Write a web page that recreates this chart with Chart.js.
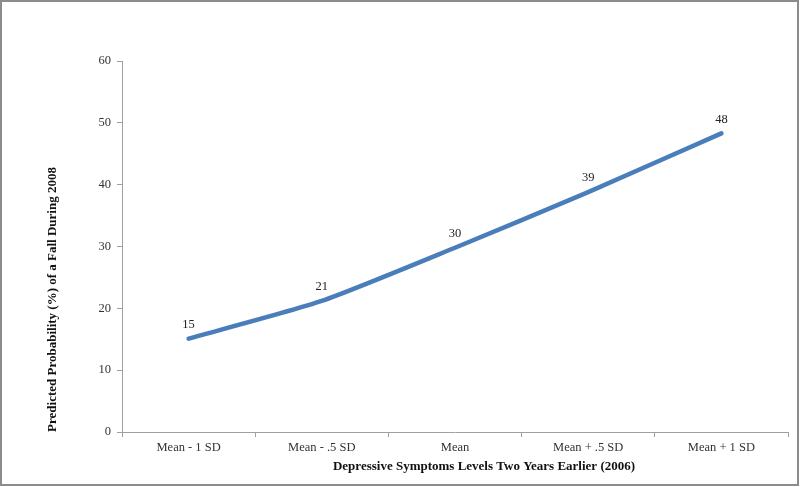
<!DOCTYPE html>
<html>
<head>
<meta charset="utf-8">
<script src="https://cdn.jsdelivr.net/npm/chart.js@4/dist/chart.umd.min.js"></script>
<style>
  html, body { margin: 0; padding: 0; background: #fff; }
  #wrap { width: 800px; height: 487px; position: relative; }
</style>
</head>
<body>
<div id="wrap"><canvas id="c" width="800" height="487"></canvas></div>
<script>
const categories = ["Mean - 1 SD", "Mean - .5 SD", "Mean", "Mean + .5 SD", "Mean + 1 SD"];
const probabilities = [15.1, 21.2, 29.8, 38.8, 48.3];
const pointLabels = ["15", "21", "30", "39", "48"];
const yTicks = [0, 10, 20, 30, 40, 50, 60];
const xTitle = "Depressive Symptoms Levels Two Years Earlier (2006)";
const yTitle = "Predicted Probability (%) of a Fall During 2008";

const FONT = "'Liberation Serif', 'DejaVu Serif', serif";

const frame = {
  id: 'frame',
  afterDraw(chart) {
    const ctx = chart.ctx;
    ctx.save();
    ctx.strokeStyle = '#8c8c8c';
    ctx.lineWidth = 2;
    ctx.strokeRect(1, 1, chart.width - 3, chart.height - 3);
    ctx.restore();
  }
};

const titles = {
  id: 'titles',
  afterDraw(chart) {
    const ctx = chart.ctx;
    const area = chart.chartArea;
    ctx.save();
    ctx.font = "bold 13px " + FONT;
    ctx.fillStyle = '#111';
    ctx.textAlign = 'center';
    ctx.textBaseline = 'middle';
    // x title: slightly right of plot centre, as in the reference
    ctx.fillText(xTitle, (area.left + area.right) / 2 + 29, 467);
    // y title: rotated, lower than plot centre
    ctx.translate(53, (area.top + area.bottom) / 2 + 53);
    ctx.rotate(-Math.PI / 2);
    ctx.fillText(yTitle, 0, 0);
    ctx.restore();
  }
};

const labelsPlugin = {
  id: 'pointLabels',
  afterDatasetsDraw(chart) {
    const ctx = chart.ctx;
    const meta = chart.getDatasetMeta(0);
    ctx.save();
    ctx.font = "12.5px " + FONT;
    ctx.fillStyle = '#222';
    ctx.textAlign = 'center';
    ctx.textBaseline = 'middle';
    meta.data.forEach((pt, i) => {
      ctx.fillText(pointLabels[i], pt.x, pt.y - 14);
    });
    ctx.restore();
  }
};

new Chart(document.getElementById('c'), {
  type: 'line',
  data: {
    labels: categories,
    datasets: [{
      data: probabilities,
      borderColor: '#4a7ebb',
      borderWidth: 4.5,
      pointRadius: 0,
      tension: 0.2,
      borderCapStyle: 'round',
      fill: false
    }]
  },
  options: {
    responsive: false,
    animation: false,
    devicePixelRatio: 1,
    layout: { padding: { top: 61, right: 12, bottom: 0, left: 0 } },
    plugins: { legend: { display: false }, tooltip: { enabled: false } },
    scales: {
      x: {
        type: 'category',
        offset: true,
        grid: { offset: true, drawOnChartArea: false, drawTicks: true, tickLength: 5, color: '#a0a0a0' },
        border: { color: '#a0a0a0', width: 1 },
        ticks: { font: { family: FONT, size: 12.5 }, color: '#333', padding: 3, maxRotation: 0 },
        title: { display: false },
        afterFit(scale) { scale.height = 55; }
      },
      y: {
        min: 0, max: 60,
        afterBuildTicks(scale) { scale.ticks = yTicks.map(v => ({ value: v })); },
        grid: { drawOnChartArea: false, drawTicks: true, tickLength: 5, color: '#a0a0a0' },
        border: { color: '#a0a0a0', width: 1 },
        ticks: { font: { family: FONT, size: 12.5 }, color: '#333', padding: 6 },
        title: { display: false },
        afterFit(scale) { scale.width = 122; }
      }
    }
  },
  plugins: [frame, titles, labelsPlugin]
});
</script>
</body>
</html>
